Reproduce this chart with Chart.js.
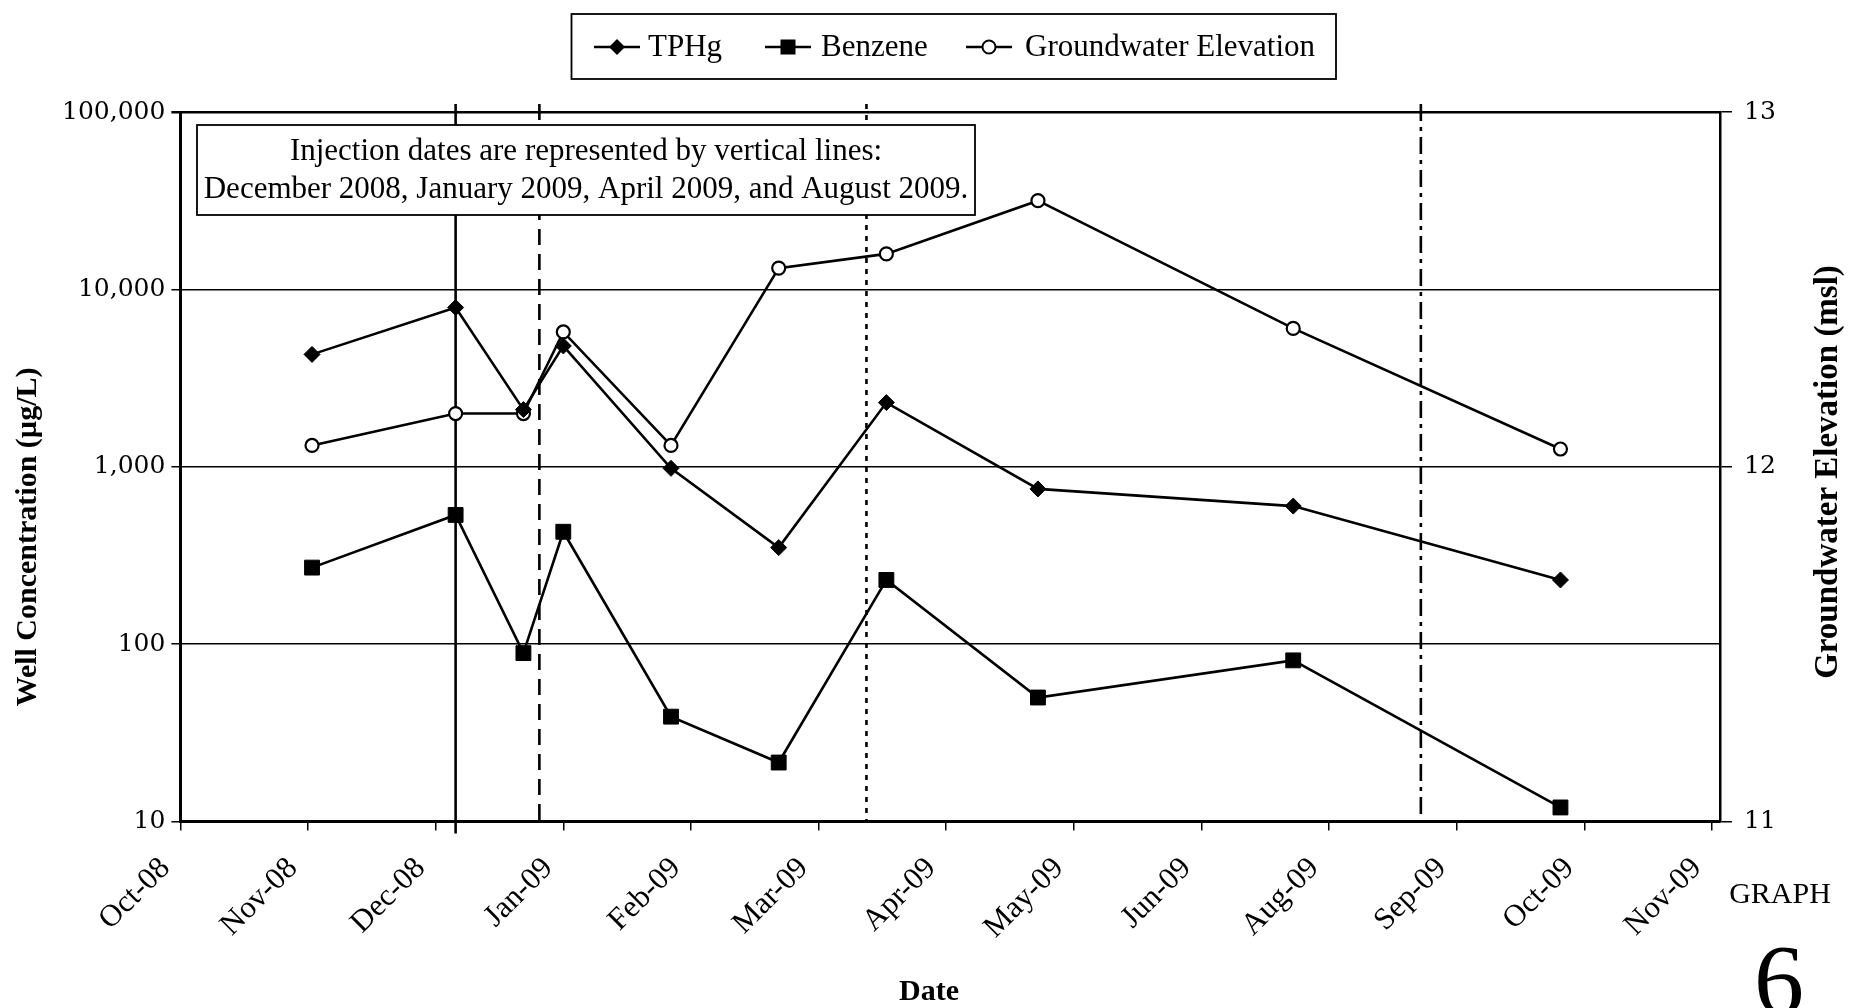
<!DOCTYPE html>
<html>
<head>
<meta charset="utf-8">
<title>Graph 6 - Well Concentration and Groundwater Elevation</title>
<script src="https://cdn.jsdelivr.net/npm/chart.js@4.4.1/dist/chart.umd.min.js"></script>
<style>
  html, body { margin: 0; padding: 0; background: #fff; overflow: hidden; }
  canvas { display: block; }
</style>
</head>
<body>
<canvas id="chart" width="1852" height="1008"></canvas>
<script>
// ---- Data -------------------------------------------------------------
const AXIS_START = '2008-10-17';          // first date-axis tick
const TICK_STEP_DAYS = 32;                // spacing of date-axis ticks
const TICK_LABELS = ['Oct-08', 'Nov-08', 'Dec-08', 'Jan-09', 'Feb-09', 'Mar-09', 'Apr-09',
                     'May-09', 'Jun-09', 'Aug-09', 'Sep-09', 'Oct-09', 'Nov-09'];

const SAMPLE_DATES = ['2008-11-19', '2008-12-25', '2009-01-11', '2009-01-21', '2009-02-17',
                      '2009-03-16', '2009-04-12', '2009-05-20', '2009-07-23', '2009-09-28'];
const TPHG     = [4300, 7900, 2100, 4800, 980, 350, 2300, 750, 600, 230];   // µg/L
const BENZENE  = [270, 535, 89, 430, 39, 21.5, 230, 50, 81, 12];           // µg/L
const GW_ELEV  = [12.06, 12.15, 12.15, 12.38, 12.06, 12.56, 12.60, 12.75, 12.39, 12.05]; // ft msl

const INJECTION_DATES = ['2008-12-25', '2009-01-15', '2009-04-07', '2009-08-24'];
const CONC_TICKS = [10, 100, 1000, 10000, 100000];
const ELEV_TICKS = [11, 12, 13];

const NOTE_LINES = ['Injection dates are represented by vertical lines:',
                    'December 2008, January 2009, April 2009, and August 2009.'];

// ---- Helpers ----------------------------------------------------------
const DAY_MS = 86400000;
const dayOf = s => (Date.parse(s + 'T00:00:00Z') - Date.parse(AXIS_START + 'T00:00:00Z')) / DAY_MS;
const series = vals => vals.map((v, i) => ({ x: dayOf(SAMPLE_DATES[i]), y: v }));

const SERIF = '"Liberation Serif", "Times New Roman", serif';
const WIDE_SERIF = '"DejaVu Serif", serif';

// line style of each injection marker line, in order
const INJECTION_DASH = [[], [16, 9], [5, 6], [17, 6, 4, 6]];

function drawMarker(ctx, kind, x, y) {
  ctx.save();
  ctx.fillStyle = '#000';
  ctx.strokeStyle = '#000';
  ctx.lineWidth = 2;
  ctx.setLineDash([]);
  if (kind === 'rectRot') {
    const r = 8;
    ctx.beginPath();
    ctx.moveTo(x, y - r); ctx.lineTo(x + r, y); ctx.lineTo(x, y + r); ctx.lineTo(x - r, y);
    ctx.closePath(); ctx.fill();
  } else if (kind === 'rect') {
    const h = 7.5;
    ctx.fillRect(x - h, y - h, 2 * h, 2 * h);
  } else {
    ctx.fillStyle = '#fff';
    ctx.beginPath(); ctx.arc(x, y, 6.5, 0, Math.PI * 2); ctx.fill(); ctx.stroke();
  }
  ctx.restore();
}

// Page furniture: injection lines, note box, legend, titles
const decorations = {
  id: 'decorations',
  beforeDraw(chart) {
    const ctx = chart.ctx;
    ctx.save();
    ctx.fillStyle = '#fff';
    ctx.fillRect(0, 0, chart.width, chart.height);
    ctx.restore();
  },
  beforeDatasetsDraw(chart) {
    const { ctx, chartArea } = chart;
    const xs = chart.scales.x;
    ctx.save();
    ctx.strokeStyle = '#000';
    ctx.lineWidth = 2.6;
    INJECTION_DATES.forEach((d, i) => {
      const px = xs.getPixelForValue(dayOf(d));
      ctx.setLineDash(INJECTION_DASH[i]);
      ctx.beginPath();
      ctx.moveTo(px, chartArea.top - 8);
      ctx.lineTo(px, chartArea.bottom + (i === 0 ? 12 : 0));
      ctx.stroke();
    });
    ctx.restore();
  },
  afterDatasetsDraw(chart) {
    const ctx = chart.ctx;
    // note box
    const bx = 197, by = 125, bw = 778, bh = 90;
    ctx.save();
    ctx.fillStyle = '#fff';
    ctx.fillRect(bx, by, bw, bh);
    ctx.strokeStyle = '#000';
    ctx.lineWidth = 1.8;
    ctx.strokeRect(bx, by, bw, bh);
    ctx.fillStyle = '#000';
    ctx.font = '31px ' + SERIF;
    ctx.textAlign = 'center';
    ctx.textBaseline = 'middle';
    ctx.fillText(NOTE_LINES[0], bx + bw / 2, by + 27);
    ctx.fillText(NOTE_LINES[1], bx + bw / 2, by + 65);
    ctx.restore();
  },
  afterDraw(chart) {
    const ctx = chart.ctx;
    ctx.save();
    ctx.fillStyle = '#000';
    ctx.strokeStyle = '#000';

    // legend
    ctx.lineWidth = 1.8;
    ctx.strokeRect(571.5, 14, 764.5, 65);
    const lineX = [594, 765, 966];
    const textX = [648, 821, 1025];
    const ly = 47;
    ctx.font = '31px ' + SERIF;
    ctx.textAlign = 'left';
    ctx.textBaseline = 'middle';
    chart.data.datasets.forEach((ds, i) => {
      const x0 = lineX[i];
      ctx.lineWidth = 2.5;
      ctx.setLineDash([]);
      ctx.beginPath(); ctx.moveTo(x0, ly); ctx.lineTo(x0 + 46, ly); ctx.stroke();
      drawMarker(ctx, ds.pointStyle, x0 + 23, ly);
      ctx.fillText(ds.label, textX[i], ly + 1);
    });

    // axis titles
    ctx.font = 'bold 30px ' + SERIF;
    ctx.textAlign = 'center';
    ctx.save();
    ctx.translate(28, 537); ctx.rotate(-Math.PI / 2);
    ctx.fillText('Well Concentration (µg/L)', 0, 0);
    ctx.restore();
    ctx.save();
    ctx.font = 'bold 33px ' + SERIF;
    ctx.translate(1828, 472); ctx.rotate(-Math.PI / 2);
    ctx.fillText('Groundwater Elevation (msl)', 0, 0);
    ctx.restore();
    ctx.fillText('Date', 929, 992);

    // graph number
    ctx.font = '30px ' + SERIF;
    ctx.fillText('GRAPH', 1780, 895);
    ctx.font = '100px ' + SERIF;
    ctx.textBaseline = 'alphabetic';
    ctx.fillText('6', 1779, 1013);
    ctx.restore();
  }
};

// ---- Chart ------------------------------------------------------------
Chart.defaults.font.family = SERIF;
Chart.defaults.color = '#000';

new Chart(document.getElementById('chart'), {
  type: 'line',
  data: {
    datasets: [
      {
        label: 'TPHg', data: series(TPHG), yAxisID: 'y',
        borderColor: '#000', borderWidth: 2.6, tension: 0,
        pointStyle: 'rectRot', pointRadius: 8, pointBackgroundColor: '#000',
        pointBorderColor: '#000', pointBorderWidth: 1
      },
      {
        label: 'Benzene', data: series(BENZENE), yAxisID: 'y',
        borderColor: '#000', borderWidth: 2.6, tension: 0,
        pointStyle: 'rect', pointRadius: 10.5, pointBackgroundColor: '#000',
        pointBorderColor: '#000', pointBorderWidth: 1
      },
      {
        label: 'Groundwater Elevation', data: series(GW_ELEV), yAxisID: 'y2',
        borderColor: '#000', borderWidth: 2.6, tension: 0,
        pointStyle: 'circle', pointRadius: 6.5, pointBackgroundColor: '#fff',
        pointBorderColor: '#000', pointBorderWidth: 2.2
      }
    ]
  },
  options: {
    responsive: false,
    animation: false,
    devicePixelRatio: 1,
    layout: { padding: { top: 112, left: 0, right: 0, bottom: 0 } },
    plugins: { legend: { display: false }, title: { display: false }, tooltip: { enabled: false } },
    scales: {
      x: {
        type: 'linear', position: 'bottom', min: 0, max: 386,
        afterBuildTicks: s => { s.ticks = TICK_LABELS.map((_, i) => ({ value: i * TICK_STEP_DAYS })); },
        afterFit: s => { s.height = 186.5; },
        grid: { drawOnChartArea: false, drawTicks: true, tickLength: 9, color: '#000', lineWidth: 1.5 },
        border: { display: true, color: '#000', width: 3 },
        ticks: {
          autoSkip: false, minRotation: 45, maxRotation: 45, padding: 20, labelOffset: -15,
          color: '#000', font: { family: SERIF, size: 31 },
          callback: (v, i) => TICK_LABELS[i]
        }
      },
      y: {
        type: 'logarithmic', position: 'left', min: 10, max: 100000,
        afterBuildTicks: s => { s.ticks = CONC_TICKS.map(v => ({ value: v, major: true })); },
        afterFit: s => { s.width = 180.4; },
        grid: {
          color: '#000', drawTicks: true, tickLength: 9,
          lineWidth: c => (c.tick && c.tick.value === 100000) ? 2.5 : 1.5
        },
        border: { display: true, color: '#000', width: 3 },
        ticks: {
          color: '#000', padding: 6, font: { family: WIDE_SERIF, size: 25 },
          callback: v => Number(v).toLocaleString('en-US')
        }
      },
      y2: {
        type: 'linear', position: 'right', min: 11, max: 13,
        afterBuildTicks: s => { s.ticks = ELEV_TICKS.map(v => ({ value: v })); },
        afterFit: s => { s.width = 132; },
        grid: { drawOnChartArea: false, drawTicks: true, tickLength: 12, color: '#000', lineWidth: 1.5 },
        border: { display: true, color: '#000', width: 2.5 },
        ticks: { color: '#000', padding: 12, font: { family: WIDE_SERIF, size: 25 } }
      }
    }
  },
  plugins: [decorations]
});
</script>
</body>
</html>
